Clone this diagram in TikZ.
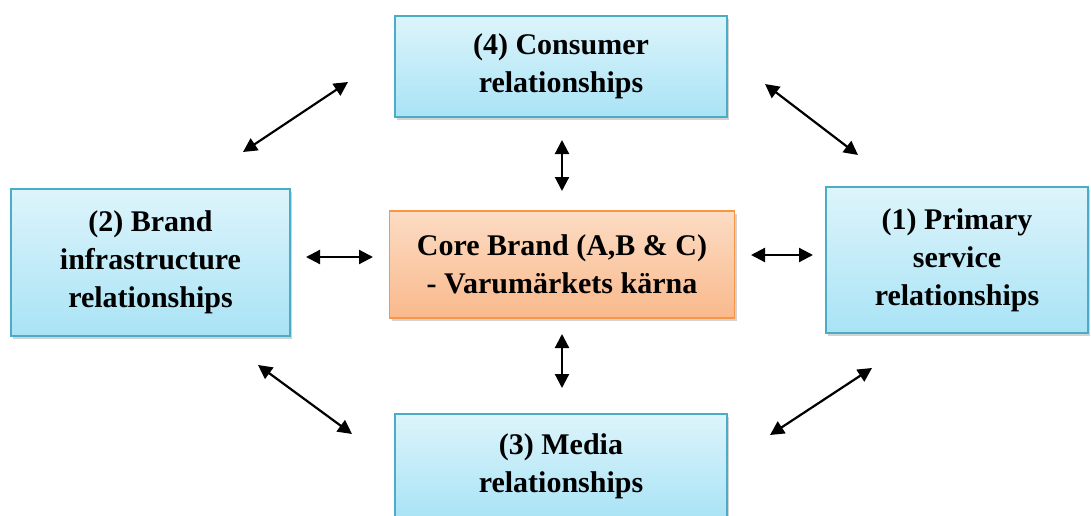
\documentclass[tikz,border=0pt]{standalone}
\usepackage{fontspec}
\setmainfont{Liberation Serif}
\usetikzlibrary{shadows,arrows.meta}
\definecolor{boxblue}{HTML}{4BACC6}
\definecolor{blueTop}{HTML}{DDF4FB}
\definecolor{blueBot}{HTML}{A9E3F5}
\definecolor{boxorange}{HTML}{F79646}
\definecolor{orTop}{HTML}{FCDCC4}
\definecolor{orBot}{HTML}{F9B98C}
\tikzset{
  relbox/.style={draw=boxblue, line width=1.2pt, top color=blueTop, bottom color=blueBot,
    align=center, font=\fontsize{30}{38}\selectfont\bfseries, inner sep=0pt,
    drop shadow={shadow xshift=2pt, shadow yshift=-3pt, opacity=0.35}},
  corebox/.style={relbox, draw=boxorange, top color=orTop, bottom color=orBot},
  link/.style={line width=2.2pt, {Triangle[length=14pt,width=14pt]}-{Triangle[length=14pt,width=14pt]}}
}
\begin{document}
\begin{tikzpicture}[x=1pt,y=-1pt]
\useasboundingbox (0,0) rectangle (1091,516);
% boxes
\node[relbox, minimum width=332pt, minimum height=101pt] (consumer) at (561,66.5)
  {(4) Consumer\\relationships};
\node[corebox, minimum width=345pt, minimum height=107pt] (core) at (562,264.5)
  {Core Brand (A,B \& C)\\- Varumärkets kärna};
\node[relbox, minimum width=279pt, minimum height=147pt] (brand) at (150.5,262.5)
  {(2) Brand\\infrastructure\\relationships};
\node[relbox, minimum width=262pt, minimum height=146pt] (primary) at (957,260)
  {(1) Primary\\service\\relationships};
\node[relbox, minimum width=332pt, minimum height=104pt] (media) at (561,466)
  {(3) Media\\relationships};
% free arrow ends
\coordinate (tlA) at (243,152); \coordinate (tlB) at (348,82);
\coordinate (trA) at (765,84);  \coordinate (trB) at (858,155);
\coordinate (blA) at (258,365); \coordinate (blB) at (352,434);
\coordinate (brA) at (770,435); \coordinate (brB) at (872,368);
\coordinate (vuA) at (562,140); \coordinate (vuB) at (562,191);
\coordinate (vdA) at (562,334); \coordinate (vdB) at (562,388);
\coordinate (hlA) at (306,257); \coordinate (hlB) at (373,257);
\coordinate (hrA) at (751,255); \coordinate (hrB) at (813,255);
% connectors
\draw[link] (tlA) -- (tlB);
\draw[link] (trA) -- (trB);
\draw[link] (blA) -- (blB);
\draw[link] (brA) -- (brB);
\draw[link] (vuA) -- (vuB);
\draw[link] (vdA) -- (vdB);
\draw[link] (hlA) -- (hlB);
\draw[link] (hrA) -- (hrB);
\end{tikzpicture}
\end{document}
